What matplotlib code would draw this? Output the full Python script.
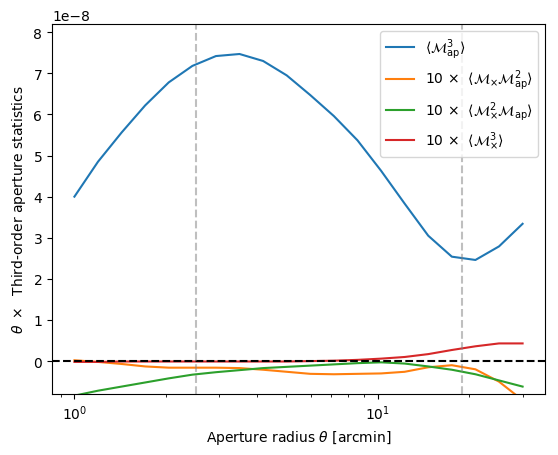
import matplotlib
matplotlib.use("Agg")
import matplotlib.pyplot as plt
from matplotlib.ticker import MultipleLocator
import numpy as np

# aperture radius [arcmin]
theta = [1.0, 1.196, 1.4305, 1.711, 2.0464, 2.4476, 2.9274, 3.5013, 4.1877, 5.0086,
         5.9904, 7.1648, 8.5694, 10.249, 12.259, 14.662, 17.536, 20.974, 25.085, 30.0]

# theta * <Map^3>  (units of 1e-8)
map3 = [4.00, 4.85, 5.56, 6.22, 6.78, 7.18, 7.42, 7.47, 7.30, 6.95,
        6.47, 5.96, 5.37, 4.63, 3.83, 3.05, 2.54, 2.46, 2.79, 3.34]
# theta * <Mx Map^2>  (units of 1e-9)
mxmap2 = [0.02, -0.02, -0.07, -0.13, -0.16, -0.16, -0.16, -0.17, -0.21, -0.26,
          -0.31, -0.32, -0.31, -0.30, -0.26, -0.15, -0.10, -0.20, -0.50, -0.95]
# theta * <Mx^2 Map>  (units of 1e-9)
mx2map = [-0.84, -0.72, -0.62, -0.52, -0.42, -0.33, -0.27, -0.22, -0.17, -0.14,
          -0.11, -0.08, -0.05, -0.03, -0.06, -0.13, -0.21, -0.32, -0.47, -0.62]
# theta * <Mx^3>  (units of 1e-9)
mx3 = [-0.02, -0.02, -0.01, -0.01, -0.01, -0.01, -0.01, -0.01, -0.01, -0.01,
       0.0, 0.01, 0.03, 0.06, 0.10, 0.17, 0.27, 0.36, 0.43, 0.43]

vlines = [2.52, 19.0]

theta = np.array(theta)
fig = plt.figure(figsize=(5.58, 4.56), dpi=100)
ax = fig.add_axes([0.0932, 0.1338, 0.8835, 0.8114])

ax.plot(theta, np.array(map3) * 1e-8,
        label=r'$\langle \mathcal{M}_{\rm ap}^3\rangle$')
ax.plot(theta, 10 * np.array(mxmap2) * 1e-9,
        label=r'10 $\times$ $\ \langle \mathcal{M}_{\times}\mathcal{M}_{\rm ap}^2\rangle$')
ax.plot(theta, 10 * np.array(mx2map) * 1e-9,
        label=r'10 $\times$ $\ \langle \mathcal{M}_{\times}^2\mathcal{M}_{\rm ap}\rangle$')
ax.plot(theta, 10 * np.array(mx3) * 1e-9,
        label=r'10 $\times$ $\ \langle \mathcal{M}_{\times}^3\rangle$')

ax.axhline(0, color='k', ls='--')
for v in vlines:
    ax.axvline(v, color='gray', ls='--', alpha=0.5)

ax.set_xscale('log')
ax.set_ylim(-0.8e-8, 8.2e-8)
ax.yaxis.set_major_locator(MultipleLocator(1e-8))
ax.set_xlabel(r'Aperture radius $\theta$ [arcmin]')
ax.set_ylabel(r'$\theta\ \times$  Third-order aperture statistics')
ax.legend(loc='upper right')

fig.savefig('out.png', dpi=100)
